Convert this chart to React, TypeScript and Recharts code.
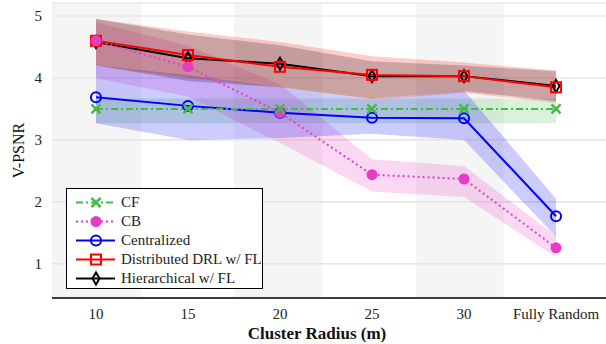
import React from 'react';
import {
  ComposedChart, Line, Area, XAxis, YAxis, CartesianGrid, ReferenceArea, Legend,
} from 'recharts';

const categories = ['10', '15', '20', '25', '30', 'Fully Random'];

const cf = [3.5, 3.5, 3.5, 3.5, 3.5, 3.5];
const cfLow = [3.27, 3.27, 3.27, 3.27, 3.27, 3.27];
const cfHigh = [3.67, 3.67, 3.67, 3.67, 3.67, 3.67];

const cb = [4.6, 4.18, 3.44, 2.44, 2.37, 1.26];
const cbLow = [4.0, 3.7, 2.95, 2.17, 2.08, 1.11];
const cbHigh = [4.9, 4.52, 3.9, 2.69, 2.58, 1.45];

const central = [3.69, 3.55, 3.44, 3.36, 3.35, 1.77];
const centralLow = [3.27, 3.0, 3.03, 3.1, 3.0, 1.44];
const centralHigh = [4.2, 4.05, 3.85, 3.65, 3.8, 2.05];

const distributed = [4.6, 4.37, 4.18, 4.05, 4.03, 3.85];
const distLow = [4.2, 4.0, 3.85, 3.65, 3.76, 3.6];
const distHigh = [4.95, 4.75, 4.58, 4.35, 4.25, 4.12];

const hierarchical = [4.58, 4.32, 4.23, 4.03, 4.03, 3.87];
const hierLow = [4.2, 3.95, 3.85, 3.66, 3.79, 3.63];
const hierHigh = [4.95, 4.7, 4.53, 4.27, 4.2, 4.11];

const shadedBands = [[-0.48, 0.49], [1.5, 2.46], [3.48, 4.43]];

const GREEN = '#44bb44';
const MAGENTA = '#e63cc3';
const BLUE = '#0000ff';
const RED = '#ff0000';
const BLACK = '#000000';
const FONT = '"Liberation Serif", "Times New Roman", serif';

const data = categories.map((c, i) => ({
  x: i,
  cf: cf[i],
  cfBand: [cfLow[i], cfHigh[i]],
  cb: cb[i],
  cbBand: [cbLow[i], cbHigh[i]],
  central: central[i],
  centralBand: [centralLow[i], centralHigh[i]],
  distributed: distributed[i],
  distBand: [distLow[i], distHigh[i]],
  hierarchical: hierarchical[i],
  hierBand: [hierLow[i], hierHigh[i]],
}));

const marker = (kind: string, cx: number, cy: number, key?: string) => {
  switch (kind) {
    case 'cross':
      return (
        <g key={key}>
          <line x1={cx - 4.5} y1={cy - 4.5} x2={cx + 4.5} y2={cy + 4.5} stroke={GREEN} strokeWidth={2.5} />
          <line x1={cx - 4.5} y1={cy + 4.5} x2={cx + 4.5} y2={cy - 4.5} stroke={GREEN} strokeWidth={2.5} />
        </g>
      );
    case 'dot':
      return <circle key={key} cx={cx} cy={cy} r={5.5} fill={MAGENTA} />;
    case 'circle':
      return <circle key={key} cx={cx} cy={cy} r={5} fill="none" stroke={BLUE} strokeWidth={2} />;
    case 'square':
      return <rect key={key} x={cx - 5} y={cy - 5} width={10} height={10} fill="none" stroke={RED} strokeWidth={2} />;
    default:
      return (
        <polygon
          key={key}
          points={`${cx},${cy - 6} ${cx + 3.5},${cy} ${cx},${cy + 6} ${cx - 3.5},${cy}`}
          fill="none"
          stroke={BLACK}
          strokeWidth={2}
        />
      );
  }
};

const dotFor = (kind: string) => (props: any) =>
  marker(kind, props.cx, props.cy, `${kind}-${props.index}`);

const legendItems = [
  { name: 'CF', color: GREEN, dash: '7 3 2 3', kind: 'cross' },
  { name: 'CB', color: MAGENTA, dash: '2 3', kind: 'dot' },
  { name: 'Centralized', color: BLUE, dash: undefined, kind: 'circle' },
  { name: 'Distributed DRL w/ FL', color: RED, dash: undefined, kind: 'square' },
  { name: 'Hierarchical w/ FL', color: BLACK, dash: undefined, kind: 'diamond' },
];

const renderLegend = () => (
  <div
    style={{
      border: '1px solid #000',
      background: '#fff',
      width: 195,
      height: 95,
      boxSizing: 'content-box',
      fontFamily: FONT,
      fontSize: 15,
      paddingTop: 4,
    }}
  >
    {legendItems.map((item) => (
      <div key={item.name} style={{ display: 'flex', alignItems: 'center', height: 19 }}>
        <svg width={54} height={19} style={{ flex: 'none' }}>
          <line x1={9} y1={9.5} x2={48} y2={9.5} stroke={item.color} strokeWidth={2} strokeDasharray={item.dash} />
          {marker(item.kind, 29, 9.5)}
        </svg>
        <span style={{ color: '#222', lineHeight: '19px' }}>{item.name}</span>
      </div>
    ))}
  </div>
);

export default function App() {
  return (
    <div style={{ position: 'absolute', left: 0, top: 0, width: 606, height: 344, background: '#fff' }}>
      <ComposedChart
        width={606}
        height={344}
        data={data}
        margin={{ top: 3, right: 0, bottom: 0, left: 0 }}
        style={{ fontFamily: FONT }}
      >
        <CartesianGrid vertical={false} stroke="#dddddd" strokeWidth={1.2} />
        {shadedBands.map(([a, b], i) => (
          <ReferenceArea key={`band-${i}`} x1={a} x2={b} fill="#e6e6e6" fillOpacity={0.4} stroke="none" ifOverflow="hidden" />
        ))}
        <XAxis
          dataKey="x"
          type="number"
          domain={[-0.478, 5.543]}
          ticks={[0, 1, 2, 3, 4, 5]}
          tickFormatter={(v: number) => categories[v]}
          allowDataOverflow
          height={46}
          tickLine={false}
          axisLine={{ stroke: '#000', strokeWidth: 1.5 }}
          tick={{ fill: '#222', fontSize: 15, fontFamily: FONT }}
          tickMargin={4}
          label={{
            value: 'Cluster Radius (m)',
            position: 'insideBottom',
            offset: 5,
            dx: -12,
            style: { fontWeight: 'bold', fontSize: 17, fill: '#111', fontFamily: FONT },
          }}
        />
        <YAxis
          type="number"
          domain={[0.45, 5.21]}
          ticks={[1, 2, 3, 4, 5]}
          allowDataOverflow
          width={52}
          axisLine={false}
          tickLine={false}
          tickMargin={4}
          tick={{ fill: '#222', fontSize: 15, fontFamily: FONT }}
          label={{
            value: 'V-PSNR',
            angle: -90,
            position: 'insideLeft',
            offset: 18,
            style: { textAnchor: 'middle', fontSize: 16, fill: '#111', fontFamily: FONT },
          }}
        />
        <Area dataKey="cfBand" type="linear" stroke="none" fill={GREEN} fillOpacity={0.2} isAnimationActive={false} />
        <Area dataKey="cbBand" type="linear" stroke="none" fill={MAGENTA} fillOpacity={0.2} isAnimationActive={false} />
        <Area dataKey="centralBand" type="linear" stroke="none" fill={BLUE} fillOpacity={0.2} isAnimationActive={false} />
        <Area dataKey="distBand" type="linear" stroke="none" fill={RED} fillOpacity={0.2} isAnimationActive={false} />
        <Area dataKey="hierBand" type="linear" stroke="none" fill={BLACK} fillOpacity={0.2} isAnimationActive={false} />
        <Line dataKey="hierarchical" type="linear" stroke={BLACK} strokeWidth={2} dot={dotFor('diamond')} isAnimationActive={false} />
        <Line dataKey="distributed" type="linear" stroke={RED} strokeWidth={2} dot={dotFor('square')} isAnimationActive={false} />
        <Line dataKey="central" type="linear" stroke={BLUE} strokeWidth={2} dot={dotFor('circle')} isAnimationActive={false} />
        <Line dataKey="cb" type="linear" stroke={MAGENTA} strokeWidth={2} strokeDasharray="2 3" dot={dotFor('dot')} isAnimationActive={false} />
        <Line dataKey="cf" type="linear" stroke={GREEN} strokeWidth={2} strokeDasharray="7 3 2 3" dot={dotFor('cross')} isAnimationActive={false} />
        <Legend
          layout="vertical"
          align="center"
          verticalAlign="middle"
          content={renderLegend}
          wrapperStyle={{ position: 'absolute', left: 66, top: 188, width: 197, height: 101 }}
        />
      </ComposedChart>
    </div>
  );
}
